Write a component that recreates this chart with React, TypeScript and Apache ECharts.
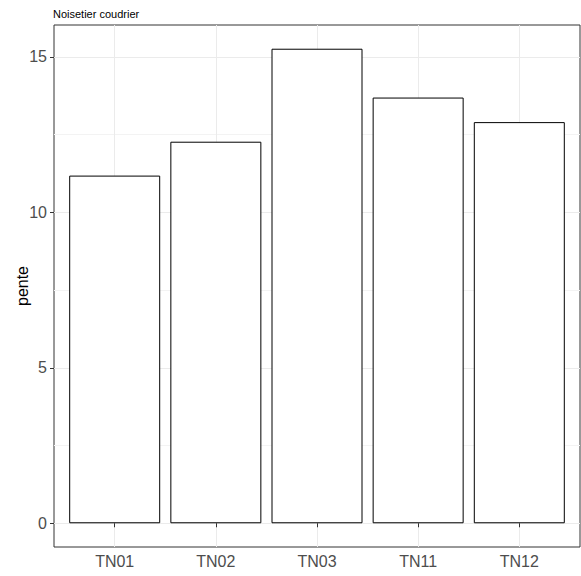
import React, { useEffect, useRef } from "react";
import * as echarts from "echarts";

const categories = ["TN01", "TN02", "TN03", "TN11", "TN12"];
const values = [11.18, 12.27, 15.26, 13.69, 12.9];
const yTicks = [0, 5, 10, 15];
const titleText = "Noisetier coudrier";
const yName = "pente";

export default function App() {
  const ref = useRef<HTMLDivElement>(null);
  useEffect(() => {
    if (!ref.current) return;
    const chart = echarts.init(ref.current, undefined, { renderer: "svg" });
    const xPos = categories.map((_, i) => i + 1);
    const vmax = Math.max(...values);
    const pad = vmax * 0.05;
    chart.setOption({
      animation: false,
      textStyle: { fontFamily: "Liberation Sans, Arial, sans-serif" },
      title: {
        text: titleText,
        left: 48,
        top: 3,
        textStyle: { fontSize: 11, fontWeight: "normal", color: "#000" },
      },
      grid: {
        left: 54,
        top: 25,
        right: 1,
        bottom: 29,
        containLabel: false,
        outerBoundsMode: "none",
        show: true,
        borderColor: "#333",
        borderWidth: 1,
        backgroundColor: "transparent",
      },
      xAxis: {
        type: "value",
        min: 0.4,
        max: 5.6,
        axisLine: { show: false },
        axisTick: {
          show: true,
          length: 4,
          customValues: xPos,
          lineStyle: { color: "#333" },
        },
        axisLabel: {
          customValues: xPos,
          margin: 6,
          fontSize: 16,
          color: "#4D4D4D",
          formatter: (v: number) => {
            const i = Math.round(v) - 1;
            return Math.abs(v - Math.round(v)) < 1e-6 && categories[i] ? categories[i] : "";
          },
        },
        splitLine: { show: true, lineStyle: { color: "#EBEBEB", width: 1 } },
      },
      yAxis: {
        type: "value",
        min: -pad,
        max: vmax + pad,
        splitNumber: 3,
        name: yName,
        nameLocation: "middle",
        nameGap: 24,
        nameMoveOverlap: false,
        nameTextStyle: { fontSize: 16, color: "#000" },
        axisLine: { show: false },
        axisTick: {
          show: true,
          length: 4,
          customValues: yTicks,
          lineStyle: { color: "#333" },
        },
        axisLabel: {
          customValues: yTicks,
          margin: 7,
          fontSize: 16,
          color: "#4D4D4D",
          formatter: (v: number) => (yTicks.indexOf(v) >= 0 ? String(v) : ""),
        },
        splitLine: { show: true, lineStyle: { color: "#EBEBEB", width: 1 } },
        minorTick: { show: false, splitNumber: 2 },
        minorSplitLine: { show: true, lineStyle: { color: "#F3F3F3", width: 1 } },
      },
      series: [
        {
          type: "bar",
          data: values.map((v, i) => [xPos[i], v]),
          barWidth: 91,
          itemStyle: { color: "#FFFFFF", borderColor: "#000", borderWidth: 1 },
        },
      ],
    });
    return () => chart.dispose();
  }, []);
  return (
    <div
      ref={ref}
      style={{ position: "absolute", left: 0, top: 0, width: 581, height: 576, overflow: "hidden" }}
    />
  );
}
